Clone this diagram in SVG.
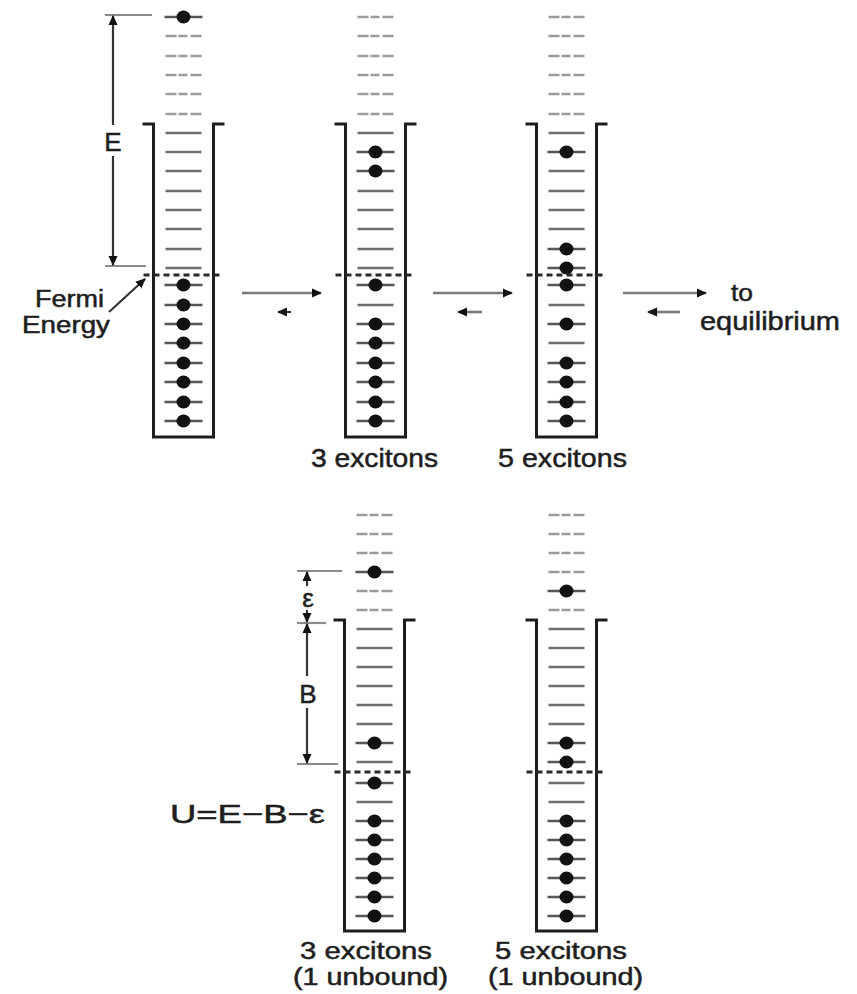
<svg xmlns="http://www.w3.org/2000/svg" xmlns:xlink="http://www.w3.org/1999/xlink" width="857" height="994" viewBox="0 0 857 994">
  <style>
    .wall { fill: none; stroke: #1e1e1e; stroke-width: 3; stroke-linejoin: miter; }
    .fermi { stroke: #2a2a2a; stroke-width: 3; stroke-dasharray: 6 4; }
    .lvl { stroke: #6e6e6e; stroke-width: 2.4; }
    .lvlup { stroke: #9a9a9a; stroke-width: 2.4; stroke-dasharray: 11 2 9 3 11; }
    .occ { stroke: #555; stroke-width: 2.4; }
    .dot { fill: #111; }
    .dim { stroke: #333; stroke-width: 2.2; fill: none; }
    .tick { stroke: #8a8a8a; stroke-width: 2.2; }
    .shaft { stroke: #7a7a7a; stroke-width: 2.6; }
    .shaft-dark { stroke: #333; stroke-width: 2.2; }
    .t { font-family: "Liberation Sans", Arial, Helvetica, sans-serif; font-size: 26px; fill: #1e1e1e; stroke: #1e1e1e; stroke-width: 0.5; }
    .s { font-size: 23px; }
  </style>
  <defs>
    <marker id="head" markerUnits="userSpaceOnUse" markerWidth="11" markerHeight="10" refX="9" refY="5" orient="auto-start-reverse">
      <path d="M0,0.5 L10,5 L0,9.5 z" fill="#111"/>
    </marker>
    <line id="lv" class="lvl" x1="-18" y1="0" x2="18" y2="0"/>
    <line id="lu" class="lvlup" x1="-18" y1="0" x2="18" y2="0"/>
    <g id="el">
      <line class="occ" x1="-19" y1="0" x2="19" y2="0"/>
      <ellipse class="dot" cx="0" cy="0" rx="7" ry="6.5"/>
    </g>
  </defs>

  <!-- Ground state: all levels filled up to the Fermi energy, one electron lifted by E -->
  <g id="well-1" transform="translate(183.5,0)">
    <path class="wall" d="M-41,124 H-30 V437 H30 V124 H41"/>
    <line class="fermi" x1="-40" y1="275" x2="40" y2="275"/>
    <use href="#el" y="17"/>
    <use href="#lu" y="36"/><use href="#lu" y="56"/><use href="#lu" y="75"/>
    <use href="#lu" y="94"/><use href="#lu" y="114"/>
    <use href="#lv" y="133"/><use href="#lv" y="152"/><use href="#lv" y="171"/>
    <use href="#lv" y="191"/><use href="#lv" y="210"/><use href="#lv" y="229"/>
    <use href="#lv" y="249"/><use href="#lv" y="268"/>
    <use href="#el" y="285"/><use href="#el" y="305"/><use href="#el" y="324"/>
    <use href="#el" y="343"/><use href="#el" y="363"/><use href="#el" y="382"/>
    <use href="#el" y="402"/><use href="#el" y="421"/>
  </g>

  <!-- 3 excitons -->
  <g id="well-2" transform="translate(375.5,0)">
    <path class="wall" d="M-41,124 H-30 V437 H30 V124 H41"/>
    <line class="fermi" x1="-40" y1="275" x2="40" y2="275"/>
    <use href="#lu" y="17"/><use href="#lu" y="36"/><use href="#lu" y="56"/>
    <use href="#lu" y="75"/><use href="#lu" y="94"/><use href="#lu" y="114"/>
    <use href="#lv" y="133"/><use href="#el" y="152"/><use href="#el" y="171"/>
    <use href="#lv" y="191"/><use href="#lv" y="210"/><use href="#lv" y="229"/>
    <use href="#lv" y="249"/><use href="#lv" y="268"/>
    <use href="#el" y="285"/><use href="#lv" y="305"/><use href="#el" y="324"/>
    <use href="#el" y="343"/><use href="#el" y="363"/><use href="#el" y="382"/>
    <use href="#el" y="402"/><use href="#el" y="421"/>
  </g>

  <!-- 5 excitons -->
  <g id="well-3" transform="translate(566.5,0)">
    <path class="wall" d="M-41,124 H-30 V437 H30 V124 H41"/>
    <line class="fermi" x1="-40" y1="275" x2="40" y2="275"/>
    <use href="#lu" y="17"/><use href="#lu" y="36"/><use href="#lu" y="56"/>
    <use href="#lu" y="75"/><use href="#lu" y="94"/><use href="#lu" y="114"/>
    <use href="#lv" y="133"/><use href="#el" y="152"/><use href="#lv" y="171"/>
    <use href="#lv" y="191"/><use href="#lv" y="210"/><use href="#lv" y="229"/>
    <use href="#el" y="249"/><use href="#el" y="268"/>
    <use href="#el" y="285"/><use href="#lv" y="305"/><use href="#el" y="324"/>
    <use href="#lv" y="343"/><use href="#el" y="363"/><use href="#el" y="382"/>
    <use href="#el" y="402"/><use href="#el" y="421"/>
  </g>

  <!-- 3 excitons, one particle unbound -->
  <g id="well-4" transform="translate(374.5,0)">
    <path class="wall" d="M-41,620 H-30 V931 H30 V620 H41"/>
    <line class="fermi" x1="-40" y1="772" x2="40" y2="772"/>
    <use href="#lu" y="515"/><use href="#lu" y="534"/><use href="#lu" y="553"/>
    <use href="#el" y="572"/><use href="#lu" y="591"/><use href="#lu" y="610"/>
    <use href="#lv" y="629"/><use href="#lv" y="648"/><use href="#lv" y="667"/>
    <use href="#lv" y="686"/><use href="#lv" y="705"/><use href="#lv" y="724"/>
    <use href="#el" y="743"/><use href="#lv" y="762"/>
    <use href="#el" y="783"/><use href="#lv" y="802"/><use href="#el" y="821"/>
    <use href="#el" y="840"/><use href="#el" y="859"/><use href="#el" y="878"/>
    <use href="#el" y="897"/><use href="#el" y="916"/>
  </g>

  <!-- 5 excitons, one particle unbound -->
  <g id="well-5" transform="translate(566.5,0)">
    <path class="wall" d="M-41,620 H-30 V931 H30 V620 H41"/>
    <line class="fermi" x1="-40" y1="772" x2="40" y2="772"/>
    <use href="#lu" y="515"/><use href="#lu" y="534"/><use href="#lu" y="553"/>
    <use href="#lu" y="572"/><use href="#el" y="591"/><use href="#lu" y="610"/>
    <use href="#lv" y="629"/><use href="#lv" y="648"/><use href="#lv" y="667"/>
    <use href="#lv" y="686"/><use href="#lv" y="705"/><use href="#lv" y="724"/>
    <use href="#el" y="743"/><use href="#el" y="762"/>
    <use href="#lv" y="783"/><use href="#lv" y="802"/><use href="#el" y="821"/>
    <use href="#el" y="840"/><use href="#el" y="859"/><use href="#el" y="878"/>
    <use href="#el" y="897"/><use href="#el" y="916"/>
  </g>

  <!-- Labels -->
  <g id="label-E">
    <text class="t" x="113" y="151" text-anchor="middle" font-size="28">E</text>
  </g>
  <g id="label-fermi">
    <text class="t s" x="35" y="307" textLength="69" lengthAdjust="spacingAndGlyphs">Fermi</text>
    <text class="t s" x="22" y="333" textLength="88" lengthAdjust="spacingAndGlyphs">Energy</text>
  </g>
  <g id="label-equilibrium">
    <text class="t s" x="731" y="301" textLength="22" lengthAdjust="spacingAndGlyphs">to</text>
    <text class="t" x="700" y="330" textLength="140" lengthAdjust="spacingAndGlyphs">equilibrium</text>
  </g>
  <g id="label-well-2">
    <text class="t" x="311" y="467" textLength="127" lengthAdjust="spacingAndGlyphs">3 excitons</text>
  </g>
  <g id="label-well-3">
    <text class="t" x="498" y="467" textLength="129" lengthAdjust="spacingAndGlyphs">5 excitons</text>
  </g>
  <g id="label-eps">
    <text class="t" x="308" y="607" text-anchor="middle" font-size="24">ε</text>
  </g>
  <g id="label-B">
    <text class="t" x="308" y="703" text-anchor="middle" font-size="28">B</text>
  </g>
  <g id="label-U">
    <text class="t" x="170" y="823" textLength="155" lengthAdjust="spacingAndGlyphs">U=E−B−ε</text>
  </g>
  <g id="label-well-4">
    <text class="t s" x="300" y="959" textLength="132" lengthAdjust="spacingAndGlyphs">3 excitons</text>
    <text class="t s" x="293" y="985" textLength="155" lengthAdjust="spacingAndGlyphs">(1 unbound)</text>
  </g>
  <g id="label-well-5">
    <text class="t s" x="495" y="959" textLength="132" lengthAdjust="spacingAndGlyphs">5 excitons</text>
    <text class="t s" x="488" y="985" textLength="155" lengthAdjust="spacingAndGlyphs">(1 unbound)</text>
  </g>

  <!-- Connectors: transition arrows, dimension arrows, pointer -->
  <g id="connectors">
    <!-- transitions between exciton stages -->
    <line class="shaft" x1="242" y1="293" x2="321" y2="293" marker-end="url(#head)"/>
    <line class="shaft-dark" x1="291" y1="312" x2="278" y2="312" marker-end="url(#head)"/>
    <line class="shaft" x1="433" y1="293" x2="512" y2="293" marker-end="url(#head)"/>
    <line class="shaft" x1="482" y1="312" x2="458" y2="312" marker-end="url(#head)"/>
    <line class="shaft" x1="623" y1="293" x2="706" y2="293" marker-end="url(#head)"/>
    <line class="shaft" x1="680" y1="312" x2="648" y2="312" marker-end="url(#head)"/>

    <!-- excitation energy E -->
    <line class="tick" x1="105" y1="15" x2="152" y2="15"/>
    <line class="tick" x1="105" y1="266" x2="146" y2="266"/>
    <line class="dim" x1="113" y1="125" x2="113" y2="16" marker-end="url(#head)"/>
    <line class="dim" x1="113" y1="156" x2="113" y2="265" marker-end="url(#head)"/>

    <!-- Fermi energy pointer -->
    <line class="dim" x1="109" y1="312" x2="145" y2="279" marker-end="url(#head)"/>

    <!-- unbound energy epsilon and binding energy B -->
    <line class="tick" x1="297" y1="571" x2="342" y2="571"/>
    <line class="tick" x1="297" y1="623" x2="326" y2="623"/>
    <line class="tick" x1="297" y1="764" x2="338" y2="764"/>
    <line class="dim" x1="307" y1="586" x2="307" y2="572" marker-end="url(#head)"/>
    <line class="dim" x1="307" y1="610" x2="307" y2="622" marker-end="url(#head)"/>
    <line class="dim" x1="307" y1="676" x2="307" y2="624" marker-end="url(#head)"/>
    <line class="dim" x1="307" y1="708" x2="307" y2="763" marker-end="url(#head)"/>
  </g>
</svg>
